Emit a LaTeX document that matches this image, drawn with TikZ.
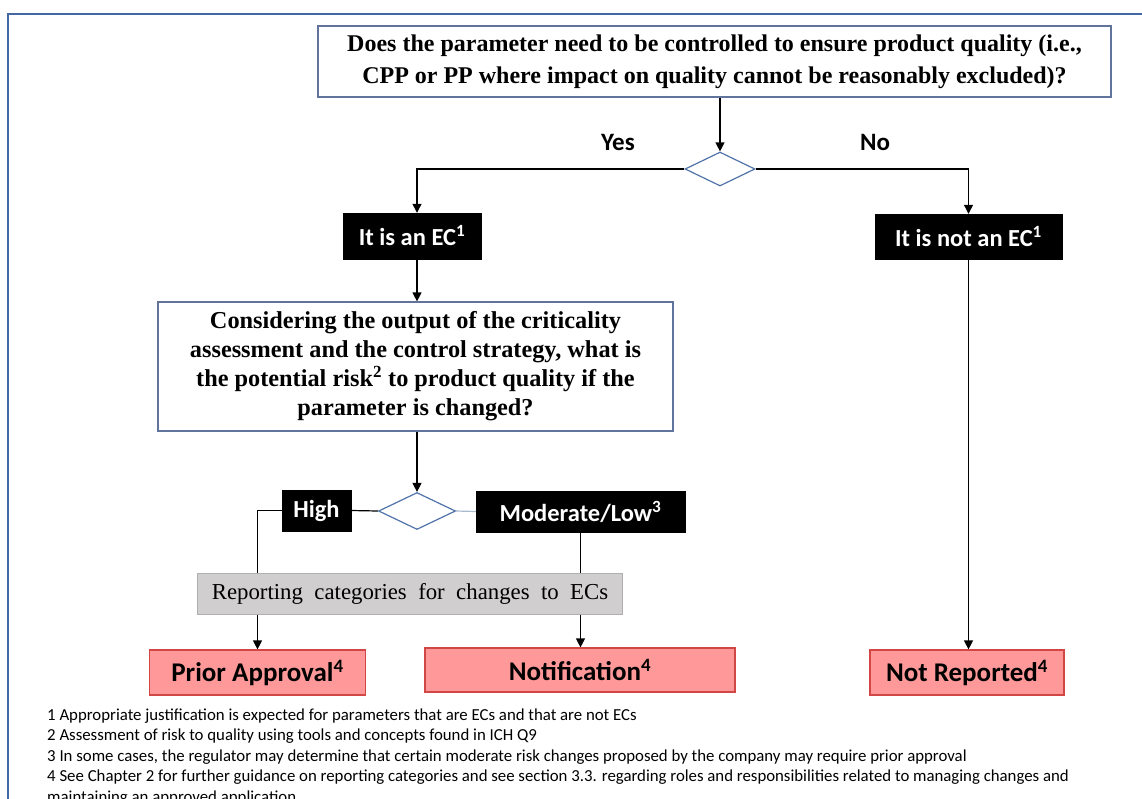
\documentclass[tikz,border=0pt]{standalone}
\usepackage{fontspec}
\setmainfont{Liberation Serif}
\newfontfamily\calfont{Carlito}
\usetikzlibrary{arrows.meta,shapes.geometric,backgrounds}
\definecolor{frameblue}{RGB}{68,104,164}
\definecolor{boxblue}{RGB}{95,115,155}
\definecolor{diablue}{RGB}{80,115,170}
\definecolor{pinkfill}{RGB}{255,153,153}
\definecolor{pinkdraw}{RGB}{210,70,70}
\definecolor{grayfill}{RGB}{208,206,206}
\definecolor{graydraw}{RGB}{175,175,175}
\definecolor{lightline}{RGB}{170,185,205}
\tikzset{
  qbox/.style={draw=boxblue,line width=1.2pt,fill=white,inner sep=0pt,align=center},
  blackbox/.style={draw=black,fill=black,text=white,inner sep=0pt,font=\calfont\bfseries\fontsize{24.5}{28}\selectfont},
  dia/.style={diamond,draw=diablue,line width=1.2pt,fill=white,inner sep=0pt},
  endbox/.style={draw=pinkdraw,line width=1.2pt,fill=pinkfill,inner sep=0pt,font=\calfont\bfseries\fontsize{27}{31}\selectfont},
  catbox/.style={draw=graydraw,line width=1pt,fill=grayfill,inner sep=0pt,font=\fontsize{22.8}{26}\selectfont},
  yn/.style={inner sep=0pt,font=\calfont\bfseries\fontsize{25}{29}\selectfont},
  foot/.style={inner sep=0pt,anchor=west,font=\calfont\fontsize{16.8}{19}\selectfont},
  conn/.style={draw=black,line width=1.2pt},
  arr/.style={conn,-{Triangle[length=9pt,width=9pt]}},
}
\begin{document}
\begin{tikzpicture}[x=1pt,y=-1pt]
\useasboundingbox (0,0) rectangle (1142,798);
\draw[frameblue,line width=1.5pt] (8,830) -- (8,14) -- (1160,14);
\node[qbox,minimum width=793pt,minimum height=71pt,font=\bfseries\fontsize{24}{32}\selectfont] (top) at (714.5,61.5)
  {Does the parameter need to be controlled to ensure product quality (i.e.,\\CPP or PP where impact on quality cannot be reasonably excluded)?};
\node[dia,minimum width=70pt,minimum height=34pt] (d1) at (720,169) {};
\node[yn] (yes) at (618,142) {Yes};
\node[yn] (no) at (875,142) {No};
\node[blackbox,minimum width=138pt,minimum height=46pt] (ec) at (412,236) {It is an EC\textsuperscript{1}};
\node[blackbox,minimum width=187pt,minimum height=45pt] (notec) at (968.5,236.5) {It is not an EC\textsuperscript{1}};
\node[qbox,minimum width=515pt,minimum height=129pt,font=\bfseries\fontsize{24.3}{29}\selectfont] (crit) at (415.5,366.5)
  {Considering the output of the criticality\\assessment and the control strategy, what is\\the potential risk\textsuperscript{2} to product quality if the\\parameter is changed?};
\node[dia,minimum width=77pt,minimum height=37pt] (d2) at (417,511) {};
\node[blackbox,minimum width=69pt,minimum height=41pt] (high) at (316.5,510.5) {High};
\node[blackbox,minimum width=209pt,minimum height=41pt] (mod) at (580.5,511.5) {Moderate/Low\textsuperscript{3}};
\node[catbox,minimum width=425pt,minimum height=41pt] (cat) at (410,594) {Reporting\ \ categories\ \ for\ \ changes\ \ to\ \ ECs};
\node[endbox,minimum width=216pt,minimum height=45pt] (prior) at (257.5,672.5) {Prior Approval\textsuperscript{4}};
\node[endbox,minimum width=310pt,minimum height=44pt] (notif) at (580,670) {Notification\textsuperscript{4}};
\node[endbox,minimum width=194pt,minimum height=45pt] (notrep) at (967,672.5) {Not Reported\textsuperscript{4}};
\begin{scope}[on background layer]
\draw[arr] (d1.north |- top.south) -- (d1.north);
\draw[arr] (d1.west) -| ([xshift=5pt]ec.north);
\draw[arr] (d1.east) -| (notec.north);
\draw[arr] ([xshift=5pt]ec.south) -- ([xshift=5pt]ec.south |- crit.north);
\draw[arr] (d2.north |- crit.south) -- (d2.north);
\draw[conn] (d2.west) -- (high.east);
\draw[conn,draw=lightline] (d2.east) -- (mod.west);
\draw[arr] (high.west) -| (prior.north);
\draw[arr] (mod.south) -- (mod.south |- notif.north);
\draw[arr] (notec.south) -- (notec.south |- notrep.north);
\end{scope}
\node[foot] (f1) at (47,716) {1 Appropriate justification is expected for parameters that are ECs and that are not ECs};
\node[foot] (f2) at (47,736.5) {2 Assessment of risk to quality using tools and concepts found in ICH Q9};
\node[foot] (f3) at (47,757) {3 In some cases, the regulator may determine that certain moderate risk changes proposed by the company may require prior approval};
\node[foot] (f4) at (47,777.5) {4 See Chapter 2 for further guidance on reporting categories and see section 3.3. regarding roles and responsibilities related to managing changes and};
\node[foot] (f5) at (47,798) {maintaining an approved application};
\end{tikzpicture}
\end{document}
